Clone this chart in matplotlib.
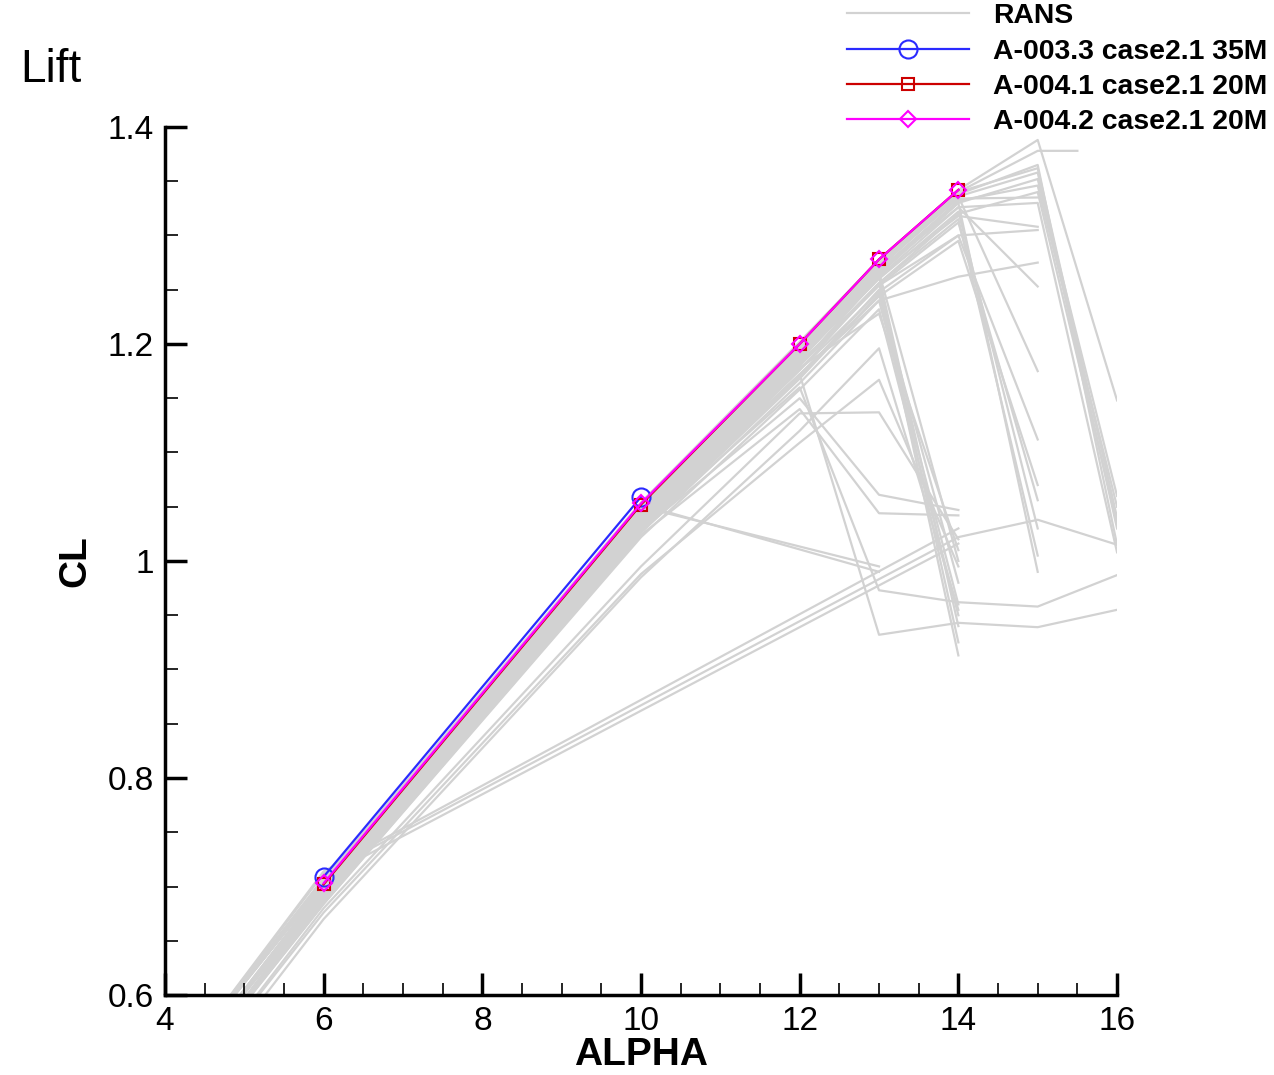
import matplotlib
matplotlib.use("Agg")
import matplotlib.pyplot as plt
from matplotlib.ticker import MultipleLocator, FixedLocator
from matplotlib.lines import Line2D

plt.rcParams['font.family'] = ['Liberation Sans', 'DejaVu Sans']

# RANS results (grey spaghetti), one alpha list + one CL list per curve
a_full = [4, 6, 10, 12, 13, 14, 15, 16]
a_15 = [4, 6, 10, 12, 13, 14, 15]
a_14 = [4, 6, 10, 12, 13, 14]
rans_alpha = [
    a_full, a_full, a_full, a_full, a_full, a_full, a_full, a_full,
    [4, 6, 10, 12, 13, 14, 15, 15.5],
    a_15, a_15, a_15, a_15, a_15, a_15, a_15,
    a_15, a_15, a_15, a_15, a_15,
    a_14, a_14, a_14, a_14, a_14, a_14, a_14, a_14,
    a_full, a_full, a_14, a_14, a_14, a_14, a_14,
    [4, 6, 10, 13], [4, 6, 10, 13],
    [4, 6, 14, 15, 16], [4, 6, 14], [4, 6, 14],
]
rans_cl = [
    [0.52, 0.705, 1.052, 1.200, 1.276, 1.340, 1.362, 1.040],
    [0.52, 0.702, 1.048, 1.196, 1.272, 1.336, 1.358, 1.030],
    [0.51, 0.698, 1.044, 1.190, 1.266, 1.330, 1.352, 1.060],
    [0.52, 0.704, 1.050, 1.198, 1.274, 1.338, 1.365, 1.015],
    [0.52, 0.706, 1.054, 1.202, 1.278, 1.342, 1.388, 1.148],
    [0.51, 0.700, 1.046, 1.192, 1.268, 1.332, 1.346, 1.050],
    [0.51, 0.696, 1.040, 1.186, 1.262, 1.326, 1.330, 1.008],
    [0.50, 0.692, 1.036, 1.180, 1.256, 1.320, 1.340, 1.035],
    [0.52, 0.704, 1.050, 1.198, 1.274, 1.340, 1.378, 1.378],
    [0.51, 0.698, 1.044, 1.190, 1.264, 1.330, 0.990],
    [0.51, 0.696, 1.040, 1.186, 1.260, 1.322, 1.030],
    [0.50, 0.692, 1.036, 1.180, 1.254, 1.312, 1.056],
    [0.50, 0.690, 1.032, 1.176, 1.248, 1.300, 1.112],
    [0.51, 0.700, 1.046, 1.194, 1.270, 1.336, 1.175],
    [0.50, 0.694, 1.038, 1.182, 1.256, 1.315, 1.005],
    [0.50, 0.690, 1.030, 1.172, 1.244, 1.295, 1.070],
    [0.52, 0.702, 1.048, 1.196, 1.272, 1.334, 1.335],
    [0.51, 0.698, 1.042, 1.188, 1.262, 1.318, 1.308],
    [0.51, 0.694, 1.038, 1.182, 1.254, 1.300, 1.305],
    [0.51, 0.700, 1.046, 1.192, 1.268, 1.326, 1.253],
    [0.50, 0.690, 1.032, 1.172, 1.240, 1.262, 1.275],
    [0.50, 0.688, 1.030, 1.170, 1.250, 0.913],
    [0.50, 0.690, 1.034, 1.176, 1.256, 0.925],
    [0.51, 0.694, 1.038, 1.180, 1.262, 0.940],
    [0.50, 0.686, 1.026, 1.164, 1.240, 0.960],
    [0.50, 0.688, 1.028, 1.168, 1.246, 0.980],
    [0.51, 0.696, 1.040, 1.184, 1.266, 1.000],
    [0.50, 0.684, 1.022, 1.158, 1.232, 0.950],
    [0.51, 0.692, 1.036, 1.178, 1.228, 1.010],
    [0.50, 0.690, 1.036, 1.172, 0.932, 0.943, 0.939, 0.955],
    [0.50, 0.688, 1.030, 1.160, 0.973, 0.962, 0.958, 0.987],
    [0.50, 0.686, 1.028, 1.150, 1.061, 1.047],
    [0.50, 0.684, 1.024, 1.140, 1.044, 1.042],
    [0.49, 0.676, 0.988, 1.109, 1.167, 0.995],
    [0.49, 0.680, 0.995, 1.136, 1.137, 1.020],
    [0.48, 0.670, 0.985, 1.120, 1.196, 0.955],
    [0.52, 0.702, 1.050, 0.995],
    [0.52, 0.704, 1.052, 0.990],
    [0.52, 0.712, 1.022, 1.038, 1.015],
    [0.52, 0.708, 1.016],
    [0.52, 0.714, 1.030],
]

# workshop results
a003_alpha = [6, 10]
a003_cl = [0.709, 1.059]
a0041_alpha = [6, 10, 12, 13, 14]
a0041_cl = [0.702, 1.052, 1.200, 1.278, 1.342]
a0042_alpha = [6, 10, 12, 13, 14]
a0042_cl = [0.703, 1.053, 1.200, 1.278, 1.342]

grey = '#d2d2d2'
fig = plt.figure(figsize=(12.74, 10.75), dpi=100)
ax = fig.add_axes([0.1295, 0.0744, 0.7473, 0.8075])

for al, cl in zip(rans_alpha, rans_cl):
    ax.plot(al, cl, color=grey, lw=1.6, zorder=1)

ax.plot(a003_alpha, a003_cl, color='#2a2aff', lw=1.6, marker='o', ms=13,
        mfc='none', mec='#2a2aff', mew=1.5, zorder=3)
ax.plot(a0041_alpha, a0041_cl, color='#cc0000', lw=1.6, marker='s', ms=9,
        mfc='none', mec='#cc0000', mew=1.5, zorder=4)
ax.plot(a0042_alpha, a0042_cl, color='#ff00ff', lw=1.6, marker='D', ms=8.5,
        mfc='none', mec='#ff00ff', mew=1.5, zorder=5)

ax.set_xlim(4, 16)
ax.set_ylim(0.6, 1.4)
ax.xaxis.set_major_locator(FixedLocator([4, 6, 8, 10, 12, 14, 16]))
ax.xaxis.set_minor_locator(MultipleLocator(0.5))
ax.yaxis.set_major_locator(FixedLocator([0.6, 0.8, 1.0, 1.2, 1.4]))
ax.yaxis.set_minor_locator(MultipleLocator(0.05))
ax.set_yticklabels(['0.6', '0.8', '1', '1.2', '1.4'])
ax.tick_params(which='major', direction='in', length=16, width=2.5,
               labelsize=24, pad=8)
ax.tick_params(which='minor', direction='in', length=9, width=1.2)
for s in ['top', 'right']:
    ax.spines[s].set_visible(False)
for s in ['left', 'bottom']:
    ax.spines[s].set_linewidth(2.5)

ax.set_xlabel('ALPHA', fontsize=28, fontweight='bold', labelpad=0)
ax.set_ylabel('CL', fontsize=28, fontweight='bold', labelpad=10)
fig.text(0.0157, 0.9237, 'Lift', fontsize=33)

handles = [
    Line2D([], [], color=grey, lw=1.6),
    Line2D([], [], color='#2a2aff', lw=1.6, marker='o', ms=13, mfc='none', mew=1.5),
    Line2D([], [], color='#cc0000', lw=1.6, marker='s', ms=9, mfc='none', mew=1.5),
    Line2D([], [], color='#ff00ff', lw=1.6, marker='D', ms=8.5, mfc='none', mew=1.5),
]
labels = ['RANS', 'A-003.3 case2.1 35M', 'A-004.1 case2.1 20M', 'A-004.2 case2.1 20M']
fig.legend(handles, labels, loc='upper left', bbox_to_anchor=(0.665, 0.997),
           frameon=False, prop={'size': 20.4, 'weight': 'bold'}, handlelength=4.3,
           handletextpad=0.85, labelspacing=0.33, borderpad=0, borderaxespad=0)

fig.savefig('out.png', dpi=100)
